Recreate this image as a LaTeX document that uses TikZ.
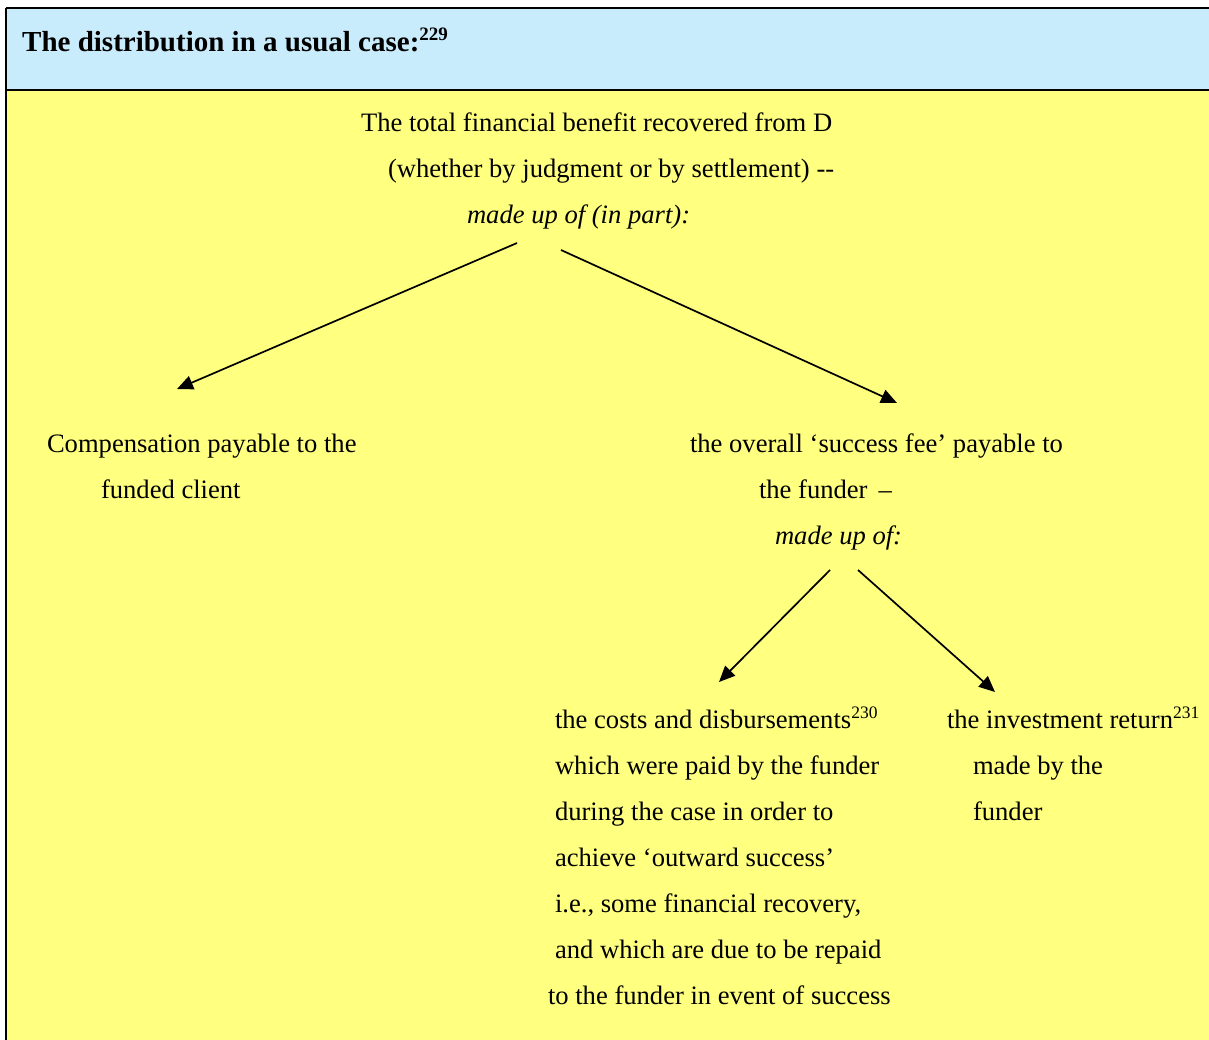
\documentclass[tikz,border=0pt]{standalone}
\usepackage{fontspec}
\setmainfont{Liberation Serif}
\usetikzlibrary{arrows.meta}
\definecolor{hdrblue}{HTML}{C8ECFB}
\definecolor{bodyyellow}{HTML}{FFFF80}
\tikzset{
  txt/.style={anchor=base west, inner sep=0pt, outer sep=0pt, font=\fontsize{26.6}{26.6}\selectfont},
  itxt/.style={txt, font=\fontsize{26.6}{26.6}\selectfont\itshape},
  hdr/.style={anchor=base west, inner sep=0pt, font=\fontsize{29}{29}\selectfont\bfseries},
  conn/.style={line width=1.7pt, -{Triangle[length=16pt,width=14pt]}},
  rule/.style={line width=1.6pt}
}
\newcommand{\supnum}[1]{\raisebox{10pt}{\fontsize{17.5}{17.5}\selectfont #1}}
\newcommand{\supbold}[1]{\raisebox{11pt}{\fontsize{19}{19}\selectfont\bfseries #1}}
\begin{document}
\begin{tikzpicture}[x=1pt,y=-1pt]
\useasboundingbox (0,0) rectangle (1209,1040);
\fill[white] (0,0) rectangle (1209,1040);
\fill[hdrblue] (6,8) rectangle (1209,90);
\fill[bodyyellow] (6,90) rectangle (1209,1040);
\draw[rule] (6,8) -- (1209,8);
\draw[rule] (6,90) -- (1209,90);
\draw[line width=2.2pt] (6,8) -- (6,1040);

\node[hdr] (head) at (22,52) {The distribution in a usual case:\supbold{229}};

\node[txt] (t1) at (361,132) {The total financial benefit recovered from D};
\node[txt] (t2) at (388,178) {(whether by judgment or by settlement) -{}-};
\node[itxt] (t3) at (467,224) {made up of (in part):};

\node[txt] (c1) at (47,452) {Compensation payable to the};
\node[txt] (c2) at (101,498) {funded client};

\node[txt] (s1) at (690,452) {the overall ‘success fee’ payable to};
\node[txt] (s2) at (759,498) {the funder \,–};
\node[itxt] (s3) at (775,544) {made up of:};

\node[txt] (d1) at (555,728) {the costs and disbursements\supnum{230}};
\node[txt] (d2) at (555,774) {which were paid by the funder};
\node[txt] (d3) at (555,820) {during the case in order to};
\node[txt] (d4) at (555,866) {achieve ‘outward success’};
\node[txt] (d5) at (555,912) {i.e., some financial recovery,};
\node[txt] (d6) at (555,958) {and which are due to be repaid};
\node[txt] (d7) at (548,1004) {to the funder in event of success};

\node[txt] (r1) at (947,728) {the investment return\supnum{231}};
\node[txt] (r2) at (973,774) {made by the};
\node[txt] (r3) at (973,820) {funder};

\coordinate (aLs) at (517,243);
\coordinate (aLe) at (177,389);
\coordinate (aRs) at (561,250);
\coordinate (aRe) at (897,403);
\coordinate (bLs) at (830,570);
\coordinate (bLe) at (719,682);
\coordinate (bRs) at (858,570);
\coordinate (bRe) at (995,692);

\draw[conn] (aLs) -- (aLe);
\draw[conn] (aRs) -- (aRe);
\draw[conn] (bLs) -- (bLe);
\draw[conn] (bRs) -- (bRe);
\end{tikzpicture}
\end{document}
